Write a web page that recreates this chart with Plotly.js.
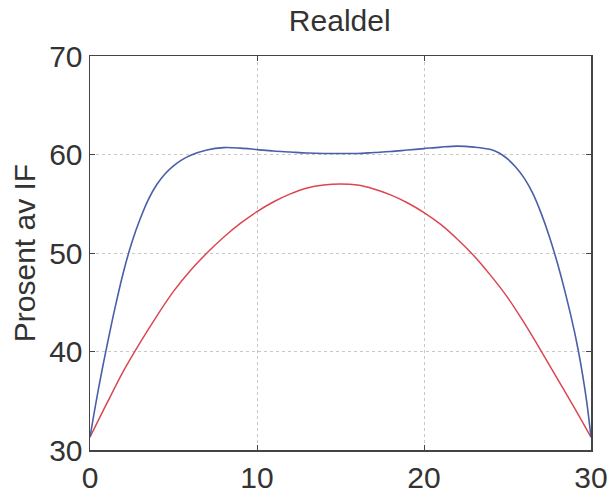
<!DOCTYPE html>
<html>
<head>
<meta charset="utf-8">
<script src="https://cdn.plot.ly/plotly-3.0.1.min.js"></script>
<style>html,body{margin:0;padding:0;background:#fff;}#chart{width:611px;height:496px;}</style>
</head>
<body>
<div id="chart"></div>
<script>
// Red series (integer x)
const redX = [0,1,2,3,4,5,6,7,8,9,10,11,12,13,14,15,16,17,18,19,20,21,22,23,24,25,26,27,28,29,30];
const redY = [31.3,34.7,38.0,40.9,43.6,46.1,48.2,50.0,51.6,53.0,54.2,55.2,56.0,56.6,56.9,57.0,56.9,56.5,55.9,55.1,54.1,52.9,51.4,49.7,47.7,45.5,42.9,40.1,37.2,34.3,31.3];

// Blue series (denser near the edges)
const blueX = [0,0.25,0.5,0.75,1,1.5,2,2.5,3,3.5,4,4.5,5,5.5,6,7,8,9,10,11,12,13,14,15,16,17,18,19,20,21,22,23,24,24.5,25,25.5,26,26.5,27,27.5,28,28.5,29,29.25,29.5,29.75,30];
const blueY = [31.3,33.8,36.15,38.35,40.45,44.45,48.05,51.05,53.45,55.45,56.95,58.05,58.85,59.45,59.9,60.45,60.7,60.65,60.5,60.35,60.25,60.15,60.1,60.1,60.1,60.2,60.3,60.45,60.6,60.75,60.85,60.75,60.5,60.15,59.55,58.7,57.6,56.1,54.1,51.7,48.9,45.7,42.1,40.0,37.6,34.8,31.3];

const xTicks = [0,10,20,30];
const yTicks = [30,40,50,60,70];

const traces = [
  {x: redX, y: redY, type: 'scatter', mode: 'lines',
   line: {color: '#dc4650', width: 1.5, shape: 'spline', smoothing: 1.0}, hoverinfo: 'skip'},
  {x: blueX, y: blueY, type: 'scatter', mode: 'lines',
   line: {color: '#4a5fa8', width: 1.6, shape: 'spline', smoothing: 1.0}, hoverinfo: 'skip'}
];

const axisCommon = {
  showline: true, linecolor: '#444', linewidth: 1.5, mirror: 'ticks',
  ticks: 'inside', ticklen: 5, tickcolor: '#444', tickwidth: 1,
  showgrid: true, gridcolor: '#c8c8c8', griddash: 'dot', gridwidth: 1,
  zeroline: false, tickfont: {size: 30, color: '#333'}
};

const layout = {
  width: 611, height: 496,
  margin: {l: 90, r: 20, t: 56, b: 46, pad: 0},
  paper_bgcolor: '#fff', plot_bgcolor: '#fff',
  font: {family: 'Liberation Sans, Arial, sans-serif', color: '#333'},
  showlegend: false,
  title: {text: 'Realdel', font: {size: 30, color: '#333'}, x: 0.556, xanchor: 'center', xref: 'container',
          y: 1 - 20/496, yanchor: 'middle', yref: 'container'},
  xaxis: Object.assign({}, axisCommon, {range: [0, 30], tickvals: xTicks, ticktext: xTicks.map(String)}),
  yaxis: Object.assign({}, axisCommon, {range: [30, 70], tickvals: yTicks, ticktext: yTicks.map(String),
          title: {text: 'Prosent av IF', font: {size: 30, color: '#333'}, standoff: 4}})
};

Plotly.newPlot('chart', traces, layout, {staticPlot: true, displayModeBar: false});
</script>
</body>
</html>
